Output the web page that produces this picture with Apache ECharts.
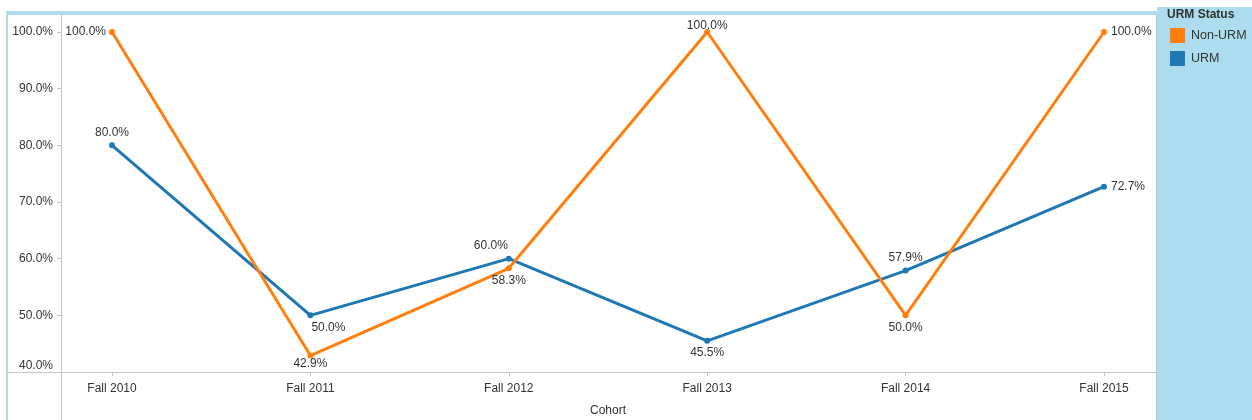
<!DOCTYPE html>
<html>
<head>
<meta charset="utf-8">
<script src="https://cdn.jsdelivr.net/npm/echarts@6/dist/echarts.min.js"></script>
<style>
  html, body { margin: 0; padding: 0; background: #ffffff; }
  #chart { width: 1252px; height: 420px; }
</style>
</head>
<body>
<div id="chart"></div>
<script>
// Cohorts along the x axis
var cohorts = ['Fall 2010', 'Fall 2011', 'Fall 2012', 'Fall 2013', 'Fall 2014', 'Fall 2015'];

// Rates (%) for each URM status group
var nonUrmValues = [100.0, 42.9, 58.3, 100.0, 50.0, 100.0];
var urmValues = [80.0, 50.0, 60.0, 45.5, 57.9, 72.7];

// Y axis tick values
var yTicks = [40, 50, 60, 70, 80, 90, 100];

// Where each value label sits relative to its point
var nonUrmLabelPlacement = [
  { position: 'left', offset: [1, 0] },
  { position: 'bottom', offset: [0, -5] },
  { position: 'bottom', offset: [0, -1] },
  { position: 'top', offset: [0, 7] },
  { position: 'bottom', offset: [0, -1] },
  { position: 'right', offset: [0, 0] }
];
var urmLabelPlacement = [
  { position: 'top', offset: [0, 0] },
  { position: 'bottom', offset: [18, -1] },
  { position: 'top', offset: [-18, 0] },
  { position: 'bottom', offset: [0, -1] },
  { position: 'top', offset: [0, 0] },
  { position: 'right', offset: [0, 0] }
];

var ORANGE = '#ff7f0e';
var BLUE = '#1f77b4';
var PANEL = '#acdcee';
var FRAME = '#c4c4c4';
var FONT = '"Liberation Sans", Arial, sans-serif';

function pct(v) { return v.toFixed(1) + '%'; }

function buildPoints(values, placement) {
  return values.map(function (v, i) {
    return {
      value: v,
      label: {
        position: placement[i].position,
        offset: placement[i].offset
      }
    };
  });
}

function lineSeries(name, values, placement, color) {
  return {
    name: name,
    type: 'line',
    data: buildPoints(values, placement),
    clip: false,
    symbol: 'circle',
    symbolSize: 6,
    lineStyle: { width: 3, color: color },
    itemStyle: { color: color },
    label: {
      show: true,
      distance: 4,
      color: '#333333',
      fontFamily: FONT,
      fontSize: 12,
      formatter: function (p) { return pct(p.value); }
    },
    emphasis: { disabled: true },
    animation: false
  };
}

var chart = echarts.init(document.getElementById('chart'), null, { renderer: 'canvas' });

chart.setOption({
  backgroundColor: '#ffffff',
  animation: false,
  textStyle: { fontFamily: FONT },
  grid: { left: 112, right: 148, top: 32, bottom: 48, containLabel: false, outerBoundsMode: 'none' },
  xAxis: {
    type: 'category',
    data: cohorts,
    boundaryGap: false,
    name: 'Cohort',
    nameLocation: 'middle',
    nameGap: 33,
    nameTextStyle: { color: '#333333', fontSize: 12, fontFamily: FONT },
    axisLine: { show: false },
    axisTick: { show: true, alignWithLabel: true, length: 4, lineStyle: { color: FRAME } },
    axisLabel: { color: '#333333', fontSize: 12, fontFamily: FONT, margin: 11 },
    splitLine: { show: false }
  },
  yAxis: {
    type: 'value',
    min: yTicks[0],
    max: yTicks[yTicks.length - 1],
    interval: 10,
    offset: 51,
    axisLine: { show: false },
    axisTick: { show: true, length: 4, lineStyle: { color: FRAME } },
    axisLabel: {
      color: '#333333', fontSize: 12, fontFamily: FONT, margin: 8,
      // the lowest label is lifted so it sits above the x axis line
      formatter: function (v) { return v === yTicks[0] ? '{low|' + pct(v) + '}' : pct(v); },
      rich: { low: { fontSize: 12, fontFamily: FONT, color: '#333333', padding: [0, 0, 12, 0] } }
    },
    splitLine: { show: false }
  },
  legend: {
    data: ['Non-URM', 'URM'],
    orient: 'vertical',
    left: 1170,
    top: 28,
    icon: 'rect',
    itemWidth: 15,
    itemHeight: 15,
    itemGap: 8,
    selectedMode: false,
    textStyle: { color: '#333333', fontSize: 12.5, fontFamily: FONT, padding: [0, 0, 0, 1] },
    padding: 0
  },
  graphic: [
    // legend panel
    { type: 'rect', z: -10, silent: true, shape: { x: 1157, y: 7, width: 95, height: 413 }, style: { fill: PANEL } },
    // top band and left edge of the view
    { type: 'rect', z: -10, silent: true, shape: { x: 7, y: 11, width: 1150, height: 4 }, style: { fill: PANEL } },
    { type: 'rect', z: -10, silent: true, shape: { x: 6, y: 11, width: 2, height: 409 }, style: { fill: PANEL } },
    // plot frame lines
    { type: 'line', z: -5, silent: true, shape: { x1: 61.5, y1: 15, x2: 61.5, y2: 420 }, style: { stroke: FRAME, lineWidth: 1 } },
    { type: 'line', z: -5, silent: true, shape: { x1: 8, y1: 372.5, x2: 1156, y2: 372.5 }, style: { stroke: FRAME, lineWidth: 1 } },
    { type: 'line', z: -5, silent: true, shape: { x1: 1156.5, y1: 15, x2: 1156.5, y2: 420 }, style: { stroke: FRAME, lineWidth: 1 } },
    // legend title
    {
      type: 'text', left: 1167, top: 9, silent: true,
      style: { text: 'URM Status', fill: '#333333', font: 'bold 12px ' + FONT }
    }
  ],
  series: [
    lineSeries('URM', urmValues, urmLabelPlacement, BLUE),
    lineSeries('Non-URM', nonUrmValues, nonUrmLabelPlacement, ORANGE)
  ]
});
</script>
</body>
</html>
